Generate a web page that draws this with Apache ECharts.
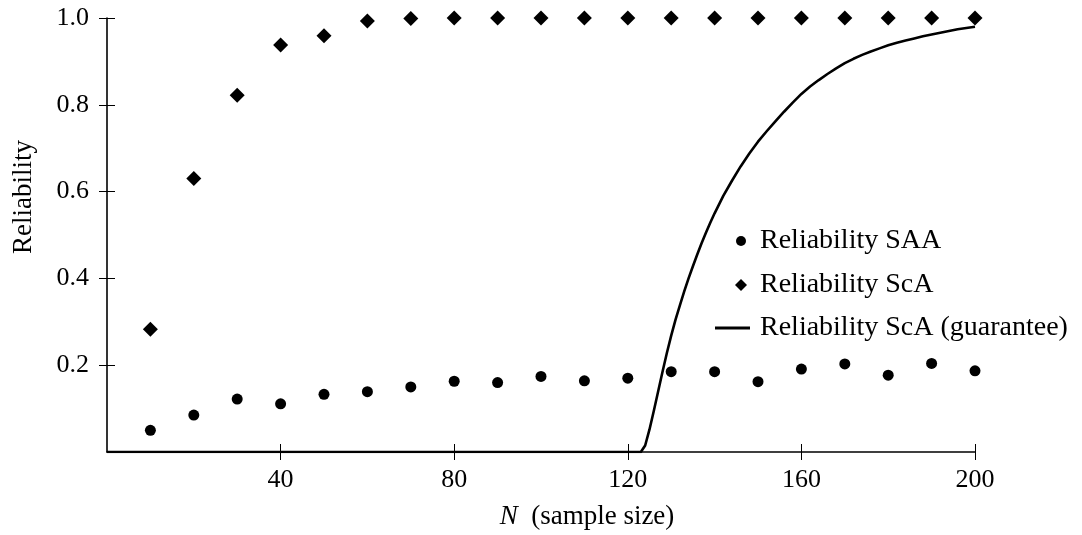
<!DOCTYPE html>
<html>
<head>
<meta charset="utf-8">
<script src="https://cdn.jsdelivr.net/npm/echarts@6/dist/echarts.min.js"></script>
<style>
html,body{margin:0;padding:0;background:#fff;}
#chart{width:1082px;height:535px;}
</style>
</head>
<body>
<div id="chart"></div>
<script>
// Sample sizes for the scatter series
const sampleSizes = [10,20,30,40,50,60,70,80,90,100,110,120,130,140,150,160,170,180,190,200];
// Reliability SAA (circles)
const reliabilitySAA = [0.050,0.085,0.122,0.111,0.133,0.139,0.150,0.163,0.160,0.174,0.164,0.170,0.185,0.185,0.162,0.191,0.203,0.177,0.204,0.187];
// Reliability ScA (diamonds)
const reliabilityScA = [0.283,0.630,0.822,0.938,0.959,0.993,0.999,1.0,1.0,1.0,1.0,1.0,1.0,1.0,1.0,1.0,1.0,1.0,1.0,1.0];
// Guarantee curve
const guaranteeN = [0,123,124,125,126,127,128,129,130,131,132,133,134,135,136,137,138,139,140,142,144,146,148,150,152,154,156,158,160,162,164,166,168,170,172,174,176,178,180,182,184,186,188,190,192,194,196,198,200];
const guaranteeR = [0,0,0.015,0.052,0.095,0.14,0.185,0.228,0.268,0.305,0.338,0.37,0.40,0.428,0.455,0.481,0.505,0.528,0.55,0.59,0.625,0.658,0.688,0.715,0.739,0.762,0.784,0.805,0.825,0.842,0.857,0.871,0.884,0.896,0.906,0.915,0.923,0.930,0.937,0.943,0.948,0.953,0.958,0.962,0.966,0.970,0.974,0.977,0.98];
// Tick values
const xTicks = [40,80,120,160,200];
const yTicks = [0.2,0.4,0.6,0.8,1.0];

const FONT = "'Liberation Serif','DejaVu Serif',serif";
const chart = echarts.init(document.getElementById('chart'), null, {renderer:'canvas'});

const zip = (a,b) => a.map((v,i)=>[v,b[i]]);

const legendText = (pad) => ({fontFamily:FONT, fontSize:28, color:'#000', padding:[0,0,0,pad]});

const option = {
  animation:false,
  backgroundColor:'#fff',
  grid:{left:107, right:107, top:18, bottom:83, containLabel:false},
  xAxis:[{
    type:'value', min:0, max:200, interval:40,
    position:'bottom',
    axisLine:{show:true, onZero:false, lineStyle:{color:'#000', width:1.6}},
    axisTick:{show:true, length:8, inside:false, customValues:xTicks, lineStyle:{color:'#000', width:1}},
    axisLabel:{show:true, margin:15, customValues:xTicks, fontFamily:FONT, fontSize:26, color:'#000',
      formatter:(v)=> v===0 ? '' : String(v)},
    splitLine:{show:false},
    name:'{i|N}  (sample size)',
    nameLocation:'middle', nameGap:51,
    nameTextStyle:{fontFamily:FONT, fontSize:27, color:'#000', padding:[0,0,0,92],
      rich:{i:{fontFamily:FONT, fontSize:27, fontStyle:'italic', color:'#000'}}}
  },{
    type:'value', min:0, max:200, interval:40,
    position:'bottom',
    axisLine:{show:false},
    axisTick:{show:true, length:8, inside:true, customValues:xTicks, lineStyle:{color:'#000', width:1}},
    axisLabel:{show:false},
    splitLine:{show:false}
  }],
  yAxis:[{
    type:'value', min:0, max:1, interval:0.2,
    position:'left',
    axisLine:{show:true, onZero:false, lineStyle:{color:'#000', width:1.6}},
    axisTick:{show:true, length:8, inside:false, customValues:yTicks, lineStyle:{color:'#000', width:1}},
    axisLabel:{show:true, margin:18, customValues:yTicks, fontFamily:FONT, fontSize:26, color:'#000',
      formatter:(v)=> v===0 ? '' : v.toFixed(1)},
    splitLine:{show:false},
    name:'Reliability',
    nameLocation:'middle', nameGap:70,
    nameTextStyle:{fontFamily:FONT, fontSize:27, color:'#000', padding:[0,0,0,76]}
  },{
    type:'value', min:0, max:1, interval:0.2,
    position:'left',
    axisLine:{show:false},
    axisTick:{show:true, length:8, inside:true, customValues:yTicks, lineStyle:{color:'#000', width:1}},
    axisLabel:{show:false},
    splitLine:{show:false}
  }],
  legend:[{
    data:[{name:'Reliability SAA', icon:'circle', itemStyle:{color:'#000', opacity:1}}],
    orient:'vertical', left:736, top:227, padding:0, itemWidth:10, itemHeight:10,
    textStyle:legendText(9)
  },{
    data:[{name:'Reliability ScA', icon:'diamond', itemStyle:{color:'#000', opacity:1}}],
    orient:'vertical', left:735, top:271, padding:0, itemWidth:12, itemHeight:12,
    textStyle:legendText(8)
  },{
    data:[{name:'Reliability ScA (guarantee)', icon:'rect', itemStyle:{color:'#000', opacity:1}}],
    orient:'vertical', left:715, top:314, padding:0, itemWidth:35, itemHeight:3,
    textStyle:legendText(5)
  }],
  series:[{
    name:'Reliability ScA (guarantee)',
    type:'line',
    xAxisIndex:0, yAxisIndex:0,
    data:zip(guaranteeN, guaranteeR),
    symbol:'none', showSymbol:false,
    lineStyle:{color:'#000', width:2.6, join:'round'},
    itemStyle:{color:'#000'},
    z:3
  },{
    name:'Reliability SAA',
    type:'scatter',
    xAxisIndex:0, yAxisIndex:0,
    data:zip(sampleSizes, reliabilitySAA),
    symbol:'circle', symbolSize:11,
    itemStyle:{color:'#000', opacity:1},
    z:4
  },{
    name:'Reliability ScA',
    type:'scatter',
    xAxisIndex:0, yAxisIndex:0,
    data:zip(sampleSizes, reliabilityScA),
    symbol:'diamond', symbolSize:15,
    itemStyle:{color:'#000', opacity:1},
    z:4
  }]
};
chart.setOption(option);
</script>
</body>
</html>
